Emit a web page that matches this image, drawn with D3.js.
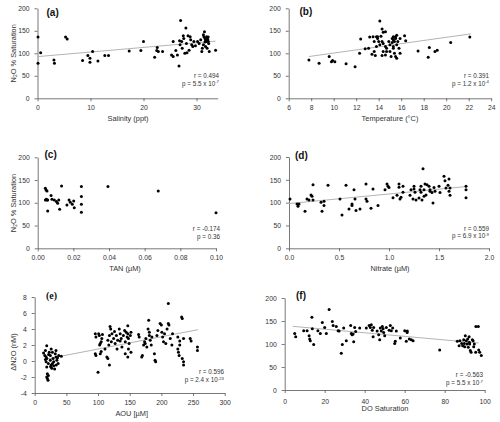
<!DOCTYPE html>
<html><head><meta charset="utf-8">
<script src="https://cdn.jsdelivr.net/npm/d3@7"></script>
<style>
body{margin:0;background:#fff}
svg{display:block}
text{font-family:"Liberation Sans",Arial,sans-serif}
</style>
</head><body>
<svg width="500" height="422"></svg>
<script>
// ---------- DATA ----------
// (a) Salinity (ppt) vs N2O % saturation
const salinityPts = [[0.1,136],[0.1,78],[0.6,101],[3.1,85],[3.2,78],[5.3,136],[5.6,132],[8.5,84],[9.5,95],[9.9,89],[9.9,80],[10.4,104],[11.4,83],[12.7,95],[13.4,95],[17.3,105],[19.5,106],[20,126],[22.1,91],[22.5,106],[22.6,113],[22.8,104],[23.6,104],[25.3,96],[25.6,93],[25.6,126],[26.1,106],[26.4,96],[26.7,72],[27,173],[26.9,119],[27.2,126],[27.3,111],[27.5,139],[27.6,133],[27.8,100],[28,156],[28.1,122],[28.4,139],[28.6,107],[28.8,137],[28.9,130],[29.1,119],[29.3,115],[29.5,126],[29.8,117],[30.2,126],[30.5,122],[30.8,130],[31,104],[31.1,111],[31.3,141],[31.4,137],[31.5,148],[31.6,133],[31.7,130],[31.9,137],[31.9,126],[32,133],[32.2,127],[31.7,115],[32,111],[32.4,104],[33.6,107],[31.3,119],[32.2,136],[31.8,128],[32.1,131],[31.6,125],[32.3,122],[28.2,101],[26.8,128]];
const salinityTrend = [[0,92.6],[33.6,127]];
const salinityTicks = [0,10,20,30];
const salinityStats = ["r = 0.494","p = 5.5 x 10","-7"];

// (b) Temperature (°C)
const tempPts = [[7.8,85],[8.7,78],[9.6,93],[9.8,81],[9.9,84],[10.1,81],[11.1,77],[11.9,70],[12.4,132],[12.3,100],[12.8,110],[13.2,136],[13.1,111],[13.4,98],[13.6,104],[13.7,95],[13.6,126],[13.8,137],[13.9,137],[13.9,133],[13.8,115],[14.1,172],[14.3,154],[14.4,147],[14.6,148],[14.3,126],[14.4,122],[14.1,119],[14.6,115],[14.7,111],[14.9,126],[14.3,95],[14.7,104],[15.0,104],[15.0,119],[15.2,133],[15.3,137],[15.3,130],[15.4,126],[15.5,133],[15.5,137],[15.3,115],[15.3,111],[15.4,100],[15.5,93],[15.1,93],[15.6,89],[15.9,100],[15.9,133],[15.7,126],[16.3,139],[16.4,128],[17.5,105],[18.4,91],[18.5,113],[19.0,104],[19.2,107],[20.4,124],[22.1,136],[13.5,137],[14.0,126],[14.4,104],[14.6,96],[15.6,119],[15.8,111],[14.2,138],[15.6,140],[15.2,124]];
const tempTrend = [[7.8,92.8],[22.2,143.2]];
const tempTicks = [6,8,10,12,14,16,18,20,22,24];
const tempStats = ["r = 0.391","p = 1.2 x 10","-4"];

// (c) TAN (µM)
const tanPts = [[0.0043,132],[0.0047,128],[0.0052,126],[0.0043,106],[0.0052,106],[0.0048,108],[0.0056,106],[0.0075,116],[0.008,108],[0.0093,106],[0.0105,103],[0.0112,99],[0.0118,106],[0.0056,82],[0.0123,86],[0.0134,137],[0.0164,95],[0.0176,106],[0.0183,101],[0.0194,97],[0.0202,104],[0.0205,89],[0.0245,136],[0.0245,114],[0.0245,97],[0.0245,79],[0.0394,136],[0.0676,126],[0.1,78]];
const tanTicks = [0,0.02,0.04,0.06,0.08,0.10];
const tanStats = ["r = -0.174","p = 0.36",""];

// (d) Nitrate (µM)
const nitratePts = [[0.01,108],[0.08,97],[0.09,92],[0.1,97],[0.16,81],[0.18,108],[0.2,106],[0.22,117],[0.23,114],[0.24,139],[0.24,106],[0.32,101],[0.33,81],[0.35,103],[0.35,94],[0.39,138],[0.51,108],[0.53,73],[0.57,138],[0.6,86],[0.63,97],[0.63,94],[0.65,128],[0.66,108],[0.67,83],[0.71,86],[0.77,141],[0.77,108],[0.78,103],[0.82,88],[0.84,130],[0.89,94],[0.96,128],[0.98,141],[0.99,136],[1.0,133],[1.04,111],[1.08,116],[1.1,141],[1.1,134],[1.11,108],[1.12,112],[1.14,136],[1.14,123],[1.21,116],[1.22,128],[1.25,136],[1.25,130],[1.26,123],[1.24,108],[1.27,106],[1.3,110],[1.31,128],[1.32,136],[1.32,123],[1.33,106],[1.34,174],[1.35,128],[1.35,114],[1.36,141],[1.37,117],[1.38,139],[1.4,136],[1.41,128],[1.41,125],[1.43,122],[1.44,99],[1.45,133],[1.46,125],[1.5,136],[1.51,122],[1.55,158],[1.56,148],[1.57,132],[1.59,138],[1.6,152],[1.6,125],[1.61,116],[1.61,132],[1.77,136],[1.77,128],[1.77,111]];
const nitrateTrend = [[0,98],[1.78,135.4]];
const nitrateTicks = [0,0.5,1.0,1.5,2.0];
const nitrateStats = ["r = 0.559","p = 6.9 x 10","-9"];

// (e) AOU [µM] vs ΔN2O (nM)
const aouPts = [[14,1.0],[16,0.7],[17,1.3],[18,0.5],[19,1.9],[19,0.3],[18,-0.1],[19,-0.75],[19,-2.0],[20,-2.2],[21,-2.4],[21.5,-1.8],[21.5,-0.3],[23,1.1],[24.7,0.7],[24.7,0.1],[26,-0.5],[27,-0.9],[28,1.1],[29,0.3],[30,-0.1],[30,-0.6],[32.5,0.9],[33.6,0.5],[35,0.1],[37,-0.3],[31.5,-1.0],[33.6,1.3],[38,0.7],[42,0.6],[20,-1.6],[22,0.8],[26,1.5],[28,-0.3],[34,-0.5],[36,0.4],[25,-0.7],[17,0.2],
[95.7,3.4],[96.7,3.0],[95.7,0.9],[96.7,0.7],[100,-1.4],[101,3.4],[102,3.2],[103.5,2.2],[102.5,2.0],[105,1.2],[103.5,0.9],[106,2.8],[105,2.4],[107,3.3],
[111,1.5],[114,0.5],[115.5,0.3],[117,2.0],[118,-0.5],[115.5,2.6],[118,3.2],[119,4.3],[120,4.0],[121,2.4],[122,3.4],[124.6,2.8],[126,3.7],[127,2.2],[129,3.2],[130,1.5],[131,2.6],[133.5,4.0],[135,3.4],[135,2.5],[136.6,2.8],[137.7,1.75],[140,3.2],[142,3.8],[143,2.4],[144.5,3.6],[146,3.0],[147,4.4],[147,3.4],[148,2.8],[148,1.5],[149,2.2],[151,3.2],[152,3.6],[152,1.1],[147,0.5],[143,0.9],
[164,3.3],[165,3.0],[169,0.5],[170,0.7],[172,2.0],[173.5,2.4],[174.5,2.2],[175.5,2.8],[177,1.75],[180,5.1],[179,4.0],[181,3.6],[181,3.2],[182.4,2.6],[184,2.0],[185,3.0],[189,0.9],[190,0.1],[191,-0.1],[193,3.2],[194.5,3.8],[198,4.7],[200,4.5],[200.8,3.6],[202,3.0],[203.4,2.4],[205,3.4],[207,2.2],[209,4.0],[211,4.7],[211,7.2],[212,4.5],[214,2.8],[216.6,2.0],[217.6,3.4],
[226,3.0],[226,1.5],[227,1.1],[228,0.7],[229,2.5],[229,2.0],[232,5.5],[233,5.3],[233,0.3],[235,-0.1],[235,-0.5],[235,2.8],[245.5,2.8],[247,2.5],[257,1.75],[257,1.3]];
const aouTrend = [[15,0.19],[258,3.92]];
const aouTicks = [0,50,100,150,200,250,300];
const dn2oTicks = [-4,-2,0,2,4,6,8];
const aouStats = ["r = 0.596","p = 2.4 x 10","-23"];

// (f) DO saturation
const doPts = [[5,123],[5.5,116],[9.5,129],[11.2,129],[12.2,118],[12.5,111],[12.8,107],[13.6,158],[13.8,133],[14.5,99],[16.6,129],[17.8,123],[18.8,147],[20,136],[20.8,123],[22.2,175],[23.8,149],[24.2,140],[25.8,138],[26.7,129],[27.2,128],[28.3,80],[28.8,99],[29.5,135],[30.8,107],[33,140],[33.3,123],[33.7,120],[34.2,122],[34.5,105],[35,136],[35.5,127],[37.5,135],[40.8,135],[42.2,140],[42.8,136],[43.3,142],[43.8,130],[44.2,116],[44.5,136],[46.2,128],[47,120],[47.5,109],[47.8,135],[48.3,128],[48.8,138],[49.2,133],[49.5,125],[50,118],[50.8,136],[52.2,130],[52.8,140],[53.3,129],[54,135],[55,101],[55.3,106],[55.8,128],[57.8,113],[60,129],[60.8,106],[61.2,125],[61.3,128],[62.3,111],[63.3,109],[64.2,107],[77.5,87],[86.3,106],[87.2,96],[87.6,107],[88.5,101],[89,96],[89.5,109],[89.8,101],[90,94],[90.3,118],[90.8,107],[91.2,100],[91.5,111],[91.8,93],[92.2,116],[92.3,104],[92.5,100],[92.8,86],[93.2,82],[93.8,109],[94.2,107],[94.5,94],[94.8,100],[95.6,138],[95.5,82],[96.8,138],[97,87],[97.5,82],[98.3,75]];
const doTrend = [[4,138.4],[97,102.2]];
const doTicks = [0,20,40,60,80,100];
const doStats = ["r = -0.563","p = 5.5 x 10","-7"];

const satTicks = [0,50,100,150,200];

// ---------- DRAW ----------
const svg = d3.select("svg");
const AXIS = "#555";
const TXT = "#333";

function panel(o){
  const x = d3.scaleLinear().domain(o.xDomain).range(o.xRange);
  const y = d3.scaleLinear().domain(o.yDomain).range(o.yRange);
  const g = svg.append("g");

  const xa = g.append("g").attr("transform",`translate(0,${o.yRange[0]})`)
    .call(d3.axisBottom(x).tickValues(o.xTicks).tickFormat(o.xFmt).tickSize(3).tickSizeOuter(0).tickPadding(o.xPad));
  const ya = g.append("g").attr("transform",`translate(${o.xRange[0]},0)`)
    .call(d3.axisLeft(y).tickValues(o.yTicks).tickFormat(d=>String(d)).tickSize(3).tickSizeOuter(0).tickPadding(o.yPad));
  [xa,ya].forEach(a=>{
    a.select(".domain").attr("stroke",AXIS).attr("stroke-width",0.8);
    a.selectAll(".tick line").attr("stroke",AXIS).attr("stroke-width",0.8);
    a.selectAll("text").attr("fill",TXT).style("font-size","6.8px").style("font-family","'Liberation Sans',Arial,sans-serif");
  });

  if(o.trend){
    g.append("line")
      .attr("x1",x(o.trend[0][0])).attr("y1",y(o.trend[0][1]))
      .attr("x2",x(o.trend[1][0])).attr("y2",y(o.trend[1][1]))
      .attr("stroke","#b4b4b4").attr("stroke-width",1);
  }

  g.selectAll("circle.pt").data(o.pts).join("circle").attr("class","pt")
    .attr("cx",d=>x(d[0])).attr("cy",d=>y(d[1])).attr("r",1.5).attr("fill","#000");

  // panel letter
  g.append("text").attr("x",o.letterX).attr("y",o.letterY).text(o.letter)
    .style("font-weight","bold").style("font-size","10px")
    .style("font-family",o.letterFont||"'Liberation Sans',Arial,sans-serif").attr("fill","#111");

  // stats
  const sx = o.statsX;
  g.append("text").attr("x",sx).attr("y",o.statsY).attr("text-anchor","end")
    .style("font-size","6.3px").attr("fill",TXT).text(o.stats[0]);
  const p = g.append("text").attr("x",sx).attr("y",o.statsY+7.8).attr("text-anchor","end")
    .style("font-size","6.3px").attr("fill",TXT);
  p.append("tspan").text(o.stats[1]);
  if(o.stats[2]) p.append("tspan").attr("dy",-2.5).style("font-size","4.3px").text(o.stats[2]);

  // x title
  g.append("text").attr("x",o.xtX).attr("y",o.xtY).attr("text-anchor","middle")
    .style("font-size","7.4px").attr("fill",TXT).text(o.xTitle);

  // y title
  if(o.yTitle){
    const t = g.append("text").attr("transform",`translate(${o.ytX},${o.ytY}) rotate(-90)`)
      .attr("text-anchor","middle").style("font-size","7.4px").attr("fill",TXT);
    o.yTitle.forEach(s=>{
      const ts = t.append("tspan").text(s[0]);
      if(s[1]==="sub") ts.attr("dy",1.8).style("font-size","5px");
      if(s[1]==="back") ts.attr("dy",-1.8);
    });
  }
}

const satTitle = [["N"],["2","sub"],["O % Saturation","back"]];

panel({pts:salinityPts,trend:salinityTrend,xDomain:[0,34],xRange:[37.5,217.7],yDomain:[0,200],yRange:[98.3,8.3],
  xTicks:salinityTicks,xFmt:d3.format("d"),yTicks:satTicks,xPad:4,yPad:5,
  letter:"(a)",letterX:46.5,letterY:15.5,stats:salinityStats,statsX:219,statsY:78,
  xTitle:"Salinity (ppt)",xtX:128,xtY:121,yTitle:satTitle,ytX:15.5,ytY:53.3});

panel({pts:tempPts,trend:tempTrend,xDomain:[6,24],xRange:[288.7,491.2],yDomain:[0,200],yRange:[98.3,8.3],
  xTicks:tempTicks,xFmt:d3.format("d"),yTicks:satTicks,xPad:4,yPad:5,
  letter:"(b)",letterX:299.5,letterY:15,stats:tempStats,statsX:489,statsY:78,
  xTitle:"Temperature (°C)",xtX:390,xtY:121});

panel({pts:tanPts,trend:null,xDomain:[0,0.1],xRange:[37.7,216],yDomain:[0,200],yRange:[248.3,157.3],
  xTicks:tanTicks,xFmt:d3.format(".2f"),yTicks:satTicks,xPad:4,yPad:5,
  letter:"(c)",letterX:44.5,letterY:158,stats:tanStats,statsX:220,statsY:231.3,
  xTitle:"TAN (µM)",xtX:125,xtY:271,yTitle:satTitle,ytX:15.5,ytY:203});

panel({pts:nitratePts,trend:nitrateTrend,xDomain:[0,2],xRange:[289,489],yDomain:[0,200],yRange:[248.3,157],
  xTicks:nitrateTicks,xFmt:d3.format(".1f"),yTicks:satTicks,xPad:4,yPad:5,
  letter:"(d)",letterX:295,letterY:158.5,stats:nitrateStats,statsX:489,statsY:230.6,
  xTitle:"Nitrate (µM)",xtX:390,xtY:271});

panel({pts:aouPts,trend:aouTrend,xDomain:[0,300],xRange:[34.7,224.7],yDomain:[-4,8],yRange:[393,297],
  xTicks:aouTicks,xFmt:d3.format("d"),yTicks:dn2oTicks,xPad:4,yPad:5,
  letter:"(e)",letterX:46,letterY:298.5,letterFont:"'Liberation Serif',serif",stats:aouStats,statsX:224,statsY:374.3,
  xTitle:"AOU [µM]",xtX:131.7,xtY:416,yTitle:[["ΔN2O (nM)"]],ytX:15.5,ytY:352});

panel({pts:doPts,trend:doTrend,xDomain:[0,100],xRange:[284.7,484.7],yDomain:[0,200],yRange:[390,298],
  xTicks:doTicks,xFmt:d3.format("d"),yTicks:satTicks,xPad:6,yPad:5,
  letter:"(f)",letterX:296,letterY:298.5,stats:doStats,statsX:483,statsY:377.3,
  xTitle:"DO Saturation",xtX:385,xtY:411});
</script>
</body></html>
